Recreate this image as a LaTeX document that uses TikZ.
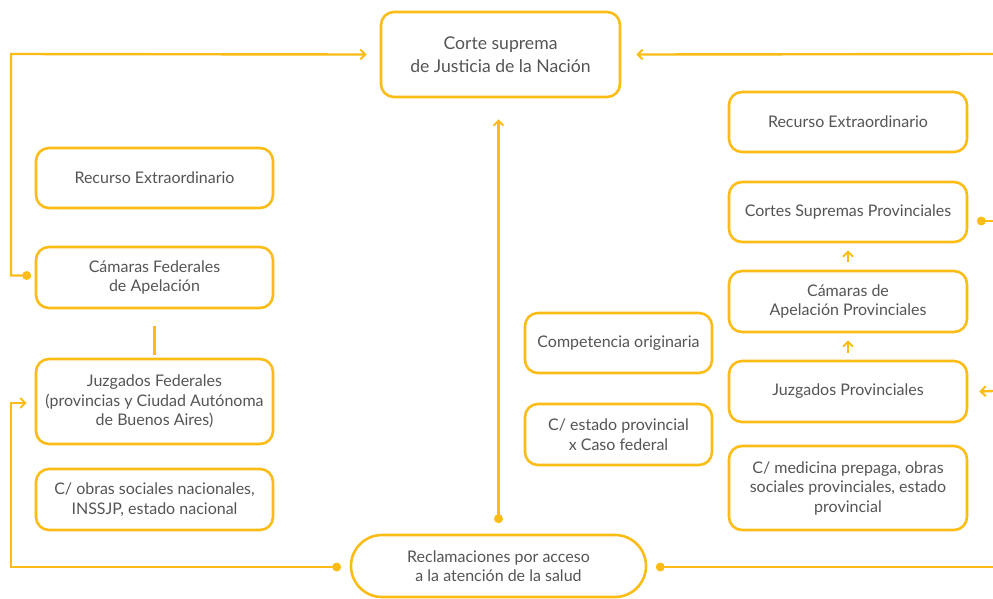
\documentclass[tikz,border=0pt]{standalone}
\usepackage{fontspec}
\setmainfont{Lato}
\usetikzlibrary{arrows.meta,calc}
\definecolor{gold}{RGB}{251,188,22}
\definecolor{txt}{RGB}{85,85,85}
\tikzset{
  box/.style={draw=gold, line width=2.6pt, rounded corners=13pt, fill=white, text=txt,
    align=center, font=\fontsize{16}{19.5}\selectfont, inner sep=0pt},
  link/.style={draw=gold, line width=2.4pt},
  tip/.style={-{Straight Barb[length=5pt,width=10pt,line width=2pt]}},
  dot/.style={fill=gold, circle, inner sep=0pt, minimum size=9pt}
}
\begin{document}
\begin{tikzpicture}[x=1pt,y=-1pt]
\useasboundingbox (0,0) rectangle (993,598);
% top
\node[box, minimum width=239pt, minimum height=85pt, font=\fontsize{17.6}{23.5}\selectfont] (cs) at (500.5,54.5) {Corte suprema\\de Justicia de la Nación};
% left column
\node[box, minimum width=237pt, minimum height=60pt] (reL) at (154.5,178) {Recurso Extraordinario};
\node[box, minimum width=237pt, minimum height=61pt] (camF) at (154.5,277.5) {Cámaras Federales\\de Apelación};
\node[box, minimum width=237pt, minimum height=85pt] (juzF) at (154.5,401.5) {Juzgados Federales\\(provincias y Ciudad Autónoma\\de Buenos Aires)};
\node[box, minimum width=237pt, minimum height=61pt] (obras) at (154.5,499.5) {C/ obras sociales nacionales,\\INSSJP, estado nacional};
% middle
\node[box, minimum width=187pt, minimum height=60pt] (comp) at (618.5,343) {Competencia originaria};
\node[box, minimum width=187pt, minimum height=61pt] (estp) at (618.5,434.5) {C/ estado provincial\\x Caso federal};
% right column
\node[box, minimum width=238pt, minimum height=60pt] (reR) at (848,122) {Recurso Extraordinario};
\node[box, minimum width=238pt, minimum height=60pt] (csp) at (848,212) {Cortes Supremas Provinciales};
\node[box, minimum width=238pt, minimum height=61pt] (camP) at (848,301.5) {Cámaras de\\Apelación Provinciales};
\node[box, minimum width=238pt, minimum height=61pt] (juzP) at (848,391.5) {Juzgados Provinciales};
\node[box, minimum width=238pt, minimum height=84pt] (medp) at (848,488) {C/ medicina prepaga, obras\\sociales provinciales, estado\\provincial};
% bottom
\node[box, rounded corners=31pt, minimum width=295pt, minimum height=62pt] (recl) at (498.5,566) {Reclamaciones por acceso\\a la atención de la salud};

% coordinates
\coordinate (d1) at ($(camF.west)+(-8,-2)$);
\coordinate (d2) at ($(recl.west)+(-13,1)$);
\coordinate (d3) at ($(recl.north)+(0,-15)$);
\coordinate (d4) at ($(recl.east)+(13,1)$);
\coordinate (d5) at ($(csp.east)+(13,9)$);
\coordinate (eR1) at (993,54);
\coordinate (eR2) at (993,221);
\coordinate (eR3) at (993,391);
\coordinate (eR4) at (993,567);

% connectors
\draw[link, tip] (d1) -| (11,54) -- ($(cs.west)+(-13,0)$);
\draw[link, tip] (d2) -| (11,403) -- ($(juzF.west)+(-8,1.5)$);
\draw[link, tip] (d3) -- ($(cs.south)+(-2,21)$);
\draw[link, tip] (eR1) -- ($(cs.east)+(15,0)$);
\draw[link] (d5) -- (eR2);
\draw[link, tip] (eR3) -- ($(juzP.east)+(11,0)$);
\draw[link] (d4) -- (eR4);
\draw[link] ($(camF.south)+(0,17)$) -- ($(juzF.north)+(0,-3)$);
\draw[link, tip] ($(camP.north)+(0,-8)$) -- ($(csp.south)+(0,7)$);
\draw[link, tip] ($(juzP.north)+(0,-7)$) -- ($(camP.south)+(0,7)$);
\foreach \d in {d1,d2,d3,d4,d5} \node[dot] at (\d) {};
\end{tikzpicture}
\end{document}
